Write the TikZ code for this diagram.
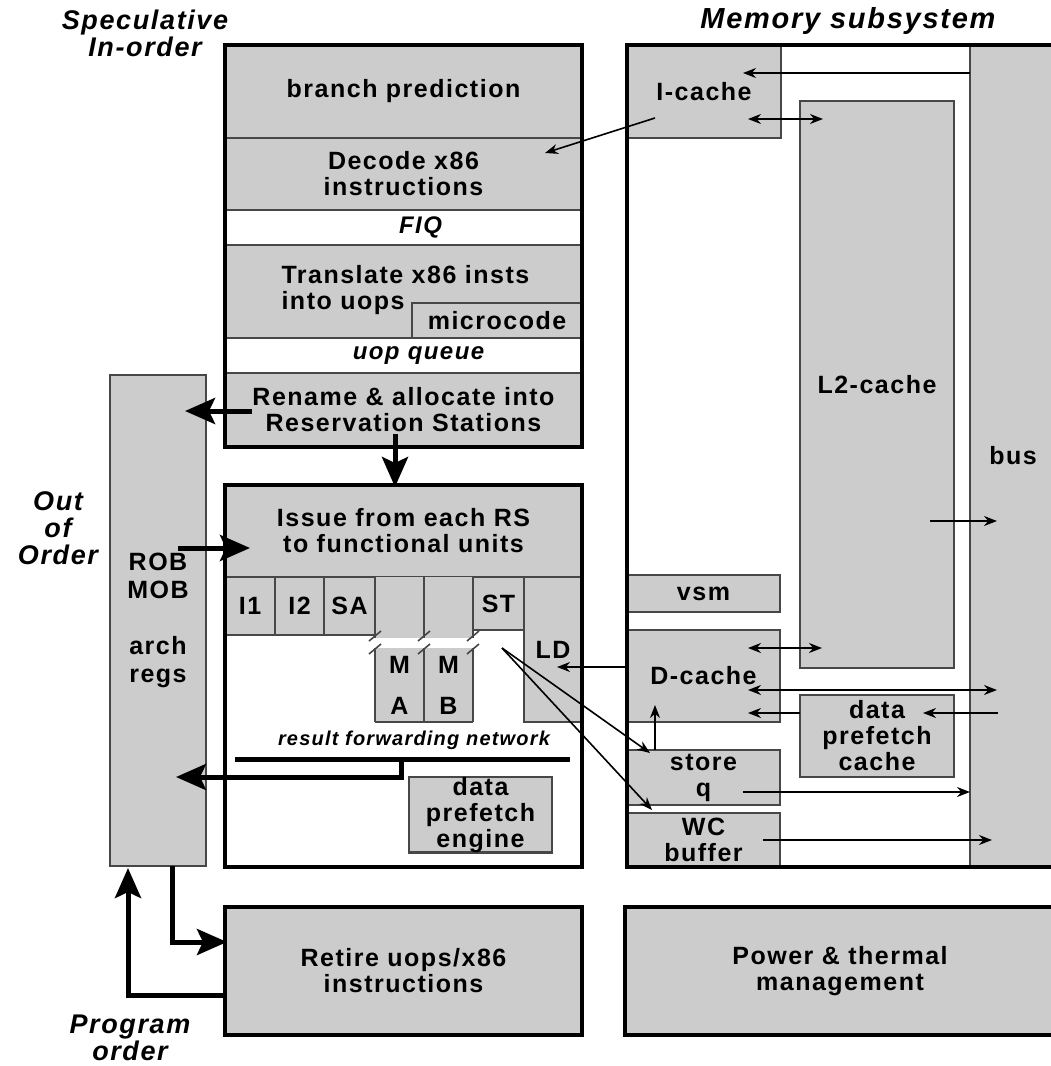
\documentclass[tikz,border=0pt]{standalone}
\usepackage{fontspec}
\setmainfont[LetterSpace=6]{Liberation Sans}
\usetikzlibrary{arrows.meta, positioning}
\definecolor{boxgray}{HTML}{CCCCCC}
\definecolor{edgegray}{HTML}{474747}
\newcommand{\blk}{\fontsize{25}{26}\selectfont\bfseries}
\newcommand{\tagf}{\fontsize{27}{27}\selectfont\bfseries\itshape}

\begin{document}
\begin{tikzpicture}[
	x=1pt, y=-1pt,
	>=Stealth,
	unit/.style={
		draw=edgegray, line width=2.4pt, fill=boxgray, anchor=north west,
		inner sep=0pt, outer sep=0pt, align=center, font=\blk
	},
	lane/.style={unit, fill=white, font=\fontsize{24}{24}\selectfont\bfseries\itshape},
	bare/.style={fill=boxgray, anchor=north west, inner sep=0pt, outer sep=0pt, align=center, font=\blk},
	rim/.style={draw=black, line width=4.5pt},
	tag/.style={font=\tagf, align=center},
	arr/.style={-{Stealth[length=13pt,width=10pt]}, line width=1.6pt},
	twoway/.style={{Stealth[length=13pt,width=10pt]}-{Stealth[length=13pt,width=10pt]}, line width=1.6pt},
	fat/.style={-{Stealth[length=30pt,width=26pt,inset=6pt]}, line width=5pt},
	wire/.style={line width=5pt}
	]
	\useasboundingbox (0,0) rectangle (1051,1066);
	\clip (0,0) rectangle (1051,1066);
	
	% ==========================================
	% FRONT END: speculative, in order
	% ==========================================
	\node[tag] (spec) at (145,33) {Speculative\\In-order};
	
	\node[unit, minimum width=357pt, minimum height=93pt] (bp) at (225,45) {branch prediction};
	\node[unit, minimum width=357pt, minimum height=72pt] (dec) at (225,138) {Decode x86\\instructions};
	\node[lane, minimum width=357pt, minimum height=35pt] (fiq) at (225,210) {\hspace*{34pt}FIQ};
	\node[unit, minimum width=357pt, minimum height=93pt] (trans) at (225,245) {};
	\node[font=\blk, align=left, anchor=west] (transtxt) at (278,290) {Translate x86 insts\\into uops};
	\node[unit, minimum width=170pt, minimum height=35pt] (mcode) at (412,303) {microcode};
	\node[lane, minimum width=357pt, minimum height=35pt] (uopq) at (225,338) {\hspace*{30pt}uop queue};
	\node[unit, minimum width=357pt, minimum height=74pt] (ren) at (225,373) {Rename \& allocate into\\Reservation Stations};
	\draw[rim] (bp.north west) rectangle (ren.south east);
	
	% ==========================================
	% OUT OF ORDER CORE
	% ==========================================
	\node[tag] (ooo) at (58,528) {Out\\of\\Order};
	
	\node[unit, font=\fontsize{25}{28}\selectfont\bfseries, minimum width=96pt, minimum height=491pt] (rob) at (110,375) {ROB\\MOB\\[28pt]arch\\regs};
	
	\node[unit, fill=white, minimum width=357pt, minimum height=382pt] (core) at (225,485) {};
	\node[unit, minimum width=357pt, minimum height=92pt] (iss) at (225,485) {Issue from each RS\\to functional units};
	
	% functional units
	\node[unit, minimum width=50pt, minimum height=58pt] (iu1) at (225,577) {I1};
	\node[unit, minimum width=49pt, minimum height=58pt] (iu2) at (275,577) {I2};
	\node[unit, minimum width=51pt, minimum height=58pt] (sa) at (324,577) {SA};
	\node[bare, minimum width=98pt, minimum height=61pt] (mtop) at (375,577) {};
	\node[bare, minimum width=49pt, minimum height=74pt] (ma) at (375,648) {M\\[15pt]A};
	\node[bare, minimum width=49pt, minimum height=74pt] (mb) at (424,648) {M\\[15pt]B};
	\node[unit, minimum width=51pt, minimum height=53pt] (st) at (473,577) {ST};
	\node[unit, minimum width=58pt, minimum height=145pt] (ld) at (524,577) {LD};
	
	% split multiplier columns with break marks
	\foreach \sx in {375,424,473} {
		\draw[draw=edgegray, line width=2.4pt] (\sx,577) -- (\sx,638);
		\draw[draw=edgegray, line width=2.4pt] (\sx,648) -- (\sx,722);
		\draw[draw=edgegray, line width=1.6pt] (\sx-6,641) -- (\sx+6,631);
		\draw[draw=edgegray, line width=1.6pt] (\sx-6,654) -- (\sx+6,644);
	}
	\draw[draw=edgegray, line width=2.4pt] (ma.south west) -- (mb.south east);
	
	% result forwarding network
	\node[font=\fontsize{20}{20}\selectfont\bfseries\itshape] (rfn) at (414,740) {result forwarding network};
	\coordinate (rfnL) at (235,759);
	\coordinate (rfnR) at (570,759);
	\coordinate (rfnT) at (401,759);
	\draw[wire] (rfnL) -- (rfnR);
	
	\node[unit, minimum width=143pt, minimum height=71pt] (dpe) at (409,777) {data\\prefetch\\engine};
	\draw[rim] (core.north west) rectangle (core.south east);
	
	% retirement
	\node[unit, draw=black, line width=4.5pt, minimum width=357pt, minimum height=128pt] (retire) at (225,907) {Retire uops/x86\\instructions};
	\node[tag] (porder) at (130,1038) {Program\\order};
	
	% ==========================================
	% MEMORY SUBSYSTEM
	% ==========================================
	\node[tag, font=\fontsize{29}{29}\selectfont\bfseries\itshape] (memlbl) at (848,21) {Memory subsystem};
	
	\node[unit, minimum width=86pt, minimum height=822pt] (bus) at (970,45) {bus};
	\node[unit, minimum width=154pt, minimum height=93pt] (icache) at (627,45) {I-cache};
	\node[unit, minimum width=154pt, minimum height=567pt] (l2) at (800,101) {L2-cache};
	\node[unit, minimum width=153pt, minimum height=37pt] (vsm) at (627,575) {vsm};
	\node[unit, minimum width=153pt, minimum height=92pt] (dcache) at (627,630) {D-cache};
	\node[unit, minimum width=154pt, minimum height=82pt] (dpc) at (800,695) {data\\prefetch\\cache};
	\node[unit, minimum width=153pt, minimum height=55pt] (storeq) at (627,750) {store\\q};
	\node[unit, minimum width=153pt, minimum height=54pt] (wcbuf) at (627,813) {WC\\buffer};
	\draw[rim] (icache.north west) rectangle (bus.south east);
	
	\node[unit, draw=black, line width=4.5pt, minimum width=430pt, minimum height=128pt] (power) at (625,907) {Power \& thermal\\management};
	
	% ==========================================
	% THIN CONNECTORS
	% ==========================================
	\coordinate (icIn) at (743,73);
	\coordinate (icL) at (748,119);
	\coordinate (l2Top) at (823,119);
	\coordinate (icOut) at (655,118);
	\coordinate (decIn) at (545,153);
	\coordinate (l2Out) at (930,521);
	\coordinate (busL2) at (997,521);
	\coordinate (dcL) at (748,648);
	\coordinate (l2Bot) at (822,648);
	\coordinate (dcB) at (748,690);
	\coordinate (busDc) at (997,690);
	\coordinate (dcP) at (748,713);
	\coordinate (dpcIn) at (923,713);
	\coordinate (busP) at (998,713);
	\coordinate (ldIn) at (557,667);
	\coordinate (sqUp) at (655,750);
	\coordinate (dcIn) at (655,705);
	\coordinate (stOut) at (502,648);
	\coordinate (sqIn) at (650,753);
	\coordinate (wcIn) at (652,810);
	\coordinate (sqOut) at (743,792);
	\coordinate (wcOut) at (763,840);
	\coordinate (busWc) at (992,840);
	
	\draw[arr] (bus.west |- icIn) -- (icIn);
	\draw[twoway] (icL) -- (l2Top);
	\draw[arr] (icOut) -- (decIn);
	\draw[arr] (l2Out) -- (busL2);
	\draw[twoway] (dcL) -- (l2Bot);
	\draw[twoway] (dcB) -- (busDc);
	\draw[arr] (dpc.west |- dcP) -- (dcP);
	\draw[arr] (busP) -- (dpcIn);
	\draw[arr] (dcache.west |- ldIn) -- (ldIn);
	\draw[arr] (sqUp) -- (dcIn);
	\draw[arr] (stOut) -- (sqIn);
	\draw[arr] (stOut) -- (wcIn);
	\draw[arr] (sqOut) -- (bus.west |- sqOut);
	\draw[arr] (wcOut) -- (busWc);
	
	% ==========================================
	% THICK DATAPATH ARROWS
	% ==========================================
	\coordinate (renOut) at (252,411);
	\coordinate (robIn) at (185,411);
	\coordinate (renDown) at (395,434);
	\coordinate (issIn) at (395,487);
	\coordinate (robOut) at (178,548);
	\coordinate (issL) at (250,548);
	\coordinate (robRes) at (176,777);
	\coordinate (robD) at (172,866);
	\coordinate (retIn) at (227,942);
	\coordinate (retOut) at (227,995);
	\coordinate (robU) at (128,868);
	
	\draw[fat] (renOut) -- (robIn);
	\draw[fat] (renDown) -- (issIn);
	\draw[fat] (robOut) -- (issL);
	\draw[fat] (rfnT) |- (robRes);
	\draw[fat] (robD) |- (retIn);
	\draw[fat] (retOut) -| (robU);
\end{tikzpicture}
\end{document}
